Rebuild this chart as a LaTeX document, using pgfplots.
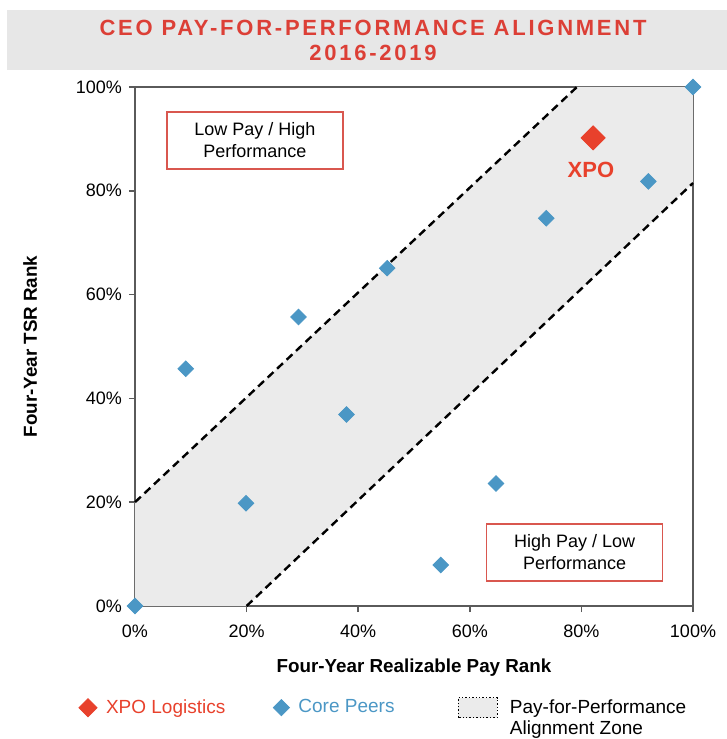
\documentclass[border=0pt]{standalone}
\usepackage{fontspec}
\setmainfont{Liberation Sans}
\newfontfamily\titlefont[LetterSpace=12.5]{Liberation Sans}
\usepackage{pgfplots}
\pgfplotsset{compat=1.18}
\definecolor{xpored}{HTML}{E8412C}
\definecolor{peerblue}{HTML}{4B97C5}
\definecolor{bandgray}{HTML}{EBEBEB}
\definecolor{titlegray}{HTML}{E7E7E7}
\definecolor{titlered}{HTML}{DC3F36}
\definecolor{boxred}{HTML}{D9574F}
\definecolor{axisgray}{HTML}{5A5A5A}
\pgfplotsset{
  singlemark/.style={legend image code/.code={\draw[##1] plot coordinates {(0.2cm,0cm)};}},
  bandbox/.style={legend image code/.code={\draw[densely dotted, line width=0.7pt, fill=bandgray] (0pt,-5pt) rectangle (19.5pt,5pt);}},
}
\begin{document}
\begin{tikzpicture}
\useasboundingbox (-67.5pt,-66.5pt) rectangle (296pt,303pt);
\fill[titlegray] (-64pt,268pt) rectangle (296pt,298pt);
\node[font=\titlefont\fontsize{11}{12.5}\selectfont\bfseries, text=titlered, align=center] at (119pt,283pt) {CEO PAY-FOR-PERFORMANCE ALIGNMENT\\2016-2019};
\begin{axis}[
  at={(0,0)}, anchor=south west,
  scale only axis, width=279pt, height=259.5pt,
  xmin=0, xmax=100, ymin=0, ymax=100,
  clip=false,
  font=\fontsize{9}{11}\selectfont,
  axis line style={draw=axisgray, line width=0.9pt},
  tick style={draw=axisgray, line width=0.8pt},
  tick align=outside, tick pos=left, major tick length=3pt,
  xtick={0,20,40,60,80,100},
  xticklabels={0\%,20\%,40\%,60\%,80\%,100\%},
  ytick={0,20,40,60,80,100},
  yticklabels={0\%,20\%,40\%,60\%,80\%,100\%},
  xticklabel style={yshift=-3pt},
  xlabel={\fontsize{9.4}{11}\selectfont\textbf{Four-Year Realizable Pay Rank}},
  xlabel style={at={(axis description cs:0.5,-0.1195)}, anchor=center},
  ylabel={\fontsize{9.4}{11}\selectfont\textbf{Four-Year TSR Rank}},
  ylabel style={at={(axis description cs:-0.188,0.5)}, anchor=center},
  legend columns=3,
  legend style={at={(axis description cs:-0.112,-0.162)}, anchor=north west,
    draw=none, fill=none, font=\fontsize{9.5}{11}\selectfont,
    cells={anchor=west}},
]
\addlegendimage{only marks, mark=square*, mark size=3.2pt, mark options={rotate=45, fill=xpored, draw=xpored}, singlemark}
\addlegendentry{\kern2.5pt\textcolor{xpored}{XPO Logistics}\kern22pt}
\addlegendimage{only marks, mark=square*, mark size=2.85pt, mark options={rotate=45, fill=peerblue, draw=peerblue}, singlemark}
\addlegendentry{\kern2.5pt\textcolor{peerblue}{Core Peers}\kern29.5pt}
\addlegendimage{bandbox}
\addlegendentry{\kern4pt\begin{tabular}[t]{@{}l@{}}Pay-for-Performance\\[-0.8pt]Alignment Zone\end{tabular}}

\addplot[fill=bandgray, draw=none, forget plot] coordinates {(0,0) (0,20) (79.2,100) (100,100) (100,81.5) (20,0)} -- cycle;
\addplot[black, line width=1.2pt, dash pattern=on 4pt off 2.5pt, forget plot] coordinates {(0,20) (79.2,100)};
\addplot[black, line width=1.2pt, dash pattern=on 4pt off 2.5pt, forget plot] coordinates {(20,0) (100,81.5)};
\addplot[only marks, mark=square*, mark size=2.75pt, mark options={rotate=45, fill=peerblue, draw=peerblue}, forget plot] coordinates {
(0,0) (9.1,45.7) (19.9,19.8) (29.3,55.7) (37.9,36.9) (45.2,65.1) (54.8,7.9) (64.7,23.6) (73.7,74.7) (92.0,81.8) (100,100)};
\addplot[only marks, mark=square*, mark size=4.25pt, mark options={rotate=45, fill=xpored, draw=xpored}, forget plot] coordinates {(82.1,90.2)};
\node[font=\fontsize{11}{12}\selectfont\bfseries, text=xpored] at (axis cs:81.7,84.0) {XPO};
\node[draw=boxred, line width=0.7pt, fill=white, minimum width=88pt, minimum height=28.5pt, align=center, inner sep=2pt] at (axis cs:21.5,89.7) {Low Pay / High\\Performance};
\node[draw=boxred, line width=0.7pt, fill=white, minimum width=88pt, minimum height=28.5pt, align=center, inner sep=2pt] at (axis cs:78.8,10.3) {High Pay / Low\\Performance};
\end{axis}
\end{tikzpicture}
\end{document}
